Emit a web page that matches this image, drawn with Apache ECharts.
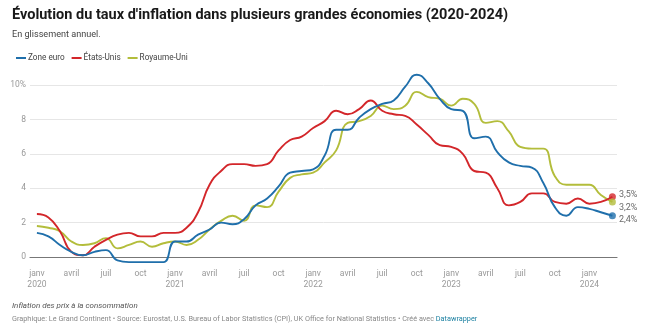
<!DOCTYPE html>
<html><head><meta charset="utf-8">
<script src="https://cdn.jsdelivr.net/npm/echarts@6/dist/echarts.min.js"></script>
<style>html,body{margin:0;padding:0;background:#fff}#c{width:650px;height:327px}</style>
</head><body><div id="c"></div>
<script>
// Months from janv 2020 (index 0) to mars 2024 (index 50)
const tickMonths = [0,3,6,9,12,15,18,21,24,27,30,33,36,39,42,45,48];
const tickLabels = ['janv\n2020','avril','juil','oct','janv\n2021','avril','juil','oct','janv\n2022','avril','juil','oct','janv\n2023','avril','juil','oct','janv\n2024'];
const yTicks = [0,2,4,6,8,10];
const seriesNames = ['Zone euro','États-Unis','Royaume-Uni'];
const zoneEuro = [1.4,1.2,0.7,0.3,0.1,0.3,0.4,-0.2,-0.3,-0.3,-0.3,-0.3,
  0.9,0.9,1.3,1.6,2.0,1.9,2.2,3.0,3.4,4.1,4.9,5.0,
  5.1,5.9,7.4,7.4,8.1,8.6,8.9,9.1,9.9,10.6,10.1,9.2,
  8.6,8.5,6.9,7.0,6.1,5.5,5.3,5.2,4.3,2.9,2.4,2.9,
  2.8,2.6,2.4];
const etatsUnis = [2.5,2.3,1.5,0.3,0.1,0.6,1.0,1.3,1.4,1.2,1.2,1.4,
  1.4,1.7,2.6,4.2,5.0,5.4,5.4,5.3,5.4,6.2,6.8,7.0,
  7.5,7.9,8.5,8.3,8.6,9.1,8.5,8.3,8.2,7.7,7.1,6.5,
  6.4,6.0,5.0,4.9,4.0,3.0,3.2,3.7,3.7,3.2,3.1,3.4,
  3.1,3.2,3.5];
const royaumeUni = [1.8,1.7,1.5,0.9,0.7,0.8,1.1,0.5,0.7,0.9,0.6,0.8,
  0.9,0.7,1.0,1.6,2.1,2.4,2.1,3.0,2.9,3.8,4.6,4.8,
  4.9,5.5,6.2,7.8,7.9,8.2,8.8,8.6,8.8,9.6,9.3,9.2,
  8.8,9.2,8.9,7.8,7.9,7.3,6.4,6.3,6.3,4.7,4.2,4.2,
  4.2,3.6,3.2];

const colors = ['#1f6fab','#d3262a','#b3bd3b'];
const allData = [zoneEuro, etatsUnis, royaumeUni];
const labelOffsets = [[0,4],[0,-2],[0,6]];
const F = 'Roboto, "Liberation Sans", sans-serif';

const chart = echarts.init(document.getElementById('c'), null, {renderer:'canvas'});
const series = [];
allData.forEach((arr, i) => {
  series.push({
    name: seriesNames[i], type: 'line', smooth: 0.5, showSymbol: false, clip: false,
    lineStyle: {width: 1.9, color: colors[i]}, itemStyle: {color: colors[i]},
    data: arr.map((v, k) => [k, v]), z: 3 + (i === 0 ? 2 : i === 1 ? 1 : 0)
  });
  const last = arr.length - 1;
  series.push({
    name: seriesNames[i] + ' fin', type: 'scatter', symbol: 'circle', symbolSize: 7,
    itemStyle: {color: colors[i]}, z: 10,
    data: [[last, arr[last]]],
    label: {show: true, position: 'right', distance: 3, offset: labelOffsets[i],
      formatter: p => String(p.value[1].toFixed(1)).replace('.', ',') + '%',
      color: '#444', fontSize: 9, fontFamily: F}
  });
});

chart.setOption({
  animation: false,
  textStyle: {fontFamily: F},
  graphic: [
    {type: 'text', left: 12, top: 8, style: {text: "Évolution du taux d'inflation dans plusieurs grandes économies (2020-2024)", font: 'bold 14.5px ' + F, fill: '#1a1a1a'}},
    {type: 'text', left: 12, top: 30.5, style: {text: 'En glissement annuel.', font: '9.1px ' + F, fill: '#444'}},
    {type: 'text', left: 12, top: 302, style: {text: 'Inflation des prix à la consommation', font: 'italic 8px ' + F, fill: '#555'}},
    {type: 'text', left: 12, top: 316, style: {
      text: '{a|Graphique: Le Grand Continent • Source: Eurostat, U.S. Bureau of Labor Statistics (CPI), UK Office for National Statistics • Créé avec }{b|Datawrapper}',
      rich: {a: {fontSize: 7.3, fontFamily: F, fill: '#888', color: '#888'}, b: {fontSize: 7.3, fontFamily: F, fill: '#1d81a2', color: '#1d81a2'}}}}
  ],
  legend: {
    left: 11, top: 49, itemWidth: 10, itemHeight: 2, itemGap: 7, icon: 'rect',
    data: seriesNames, textStyle: {fontSize: 8.2, color: '#444', fontFamily: F, padding: [0,0,0,-3]}
  },
  grid: {left: 30, right: 33, top: 85, bottom: 70, containLabel: false},
  xAxis: {
    type: 'value', min: -0.6, max: 50.4,
    splitLine: {show: false},
    axisLine: {show: true, onZero: true, lineStyle: {color: '#777', width: 1.2}},
    axisTick: {show: false},
    axisLabel: {customValues: tickMonths, formatter: v => tickLabels[tickMonths.indexOf(Math.round(v))] || '',
      color: '#999', fontSize: 8.5, lineHeight: 10.5, margin: 12, fontFamily: F}
  },
  yAxis: {
    type: 'value', min: 0, max: 10, interval: 2,
    axisLine: {show: false}, axisTick: {show: false},
    splitLine: {lineStyle: {color: '#e6e6e6', width: 1}},
    axisLabel: {formatter: v => v === 10 ? '10%' : String(v), color: '#999', fontSize: 8.5, margin: 4, fontFamily: F}
  },
  series: series
});
</script></body></html>
